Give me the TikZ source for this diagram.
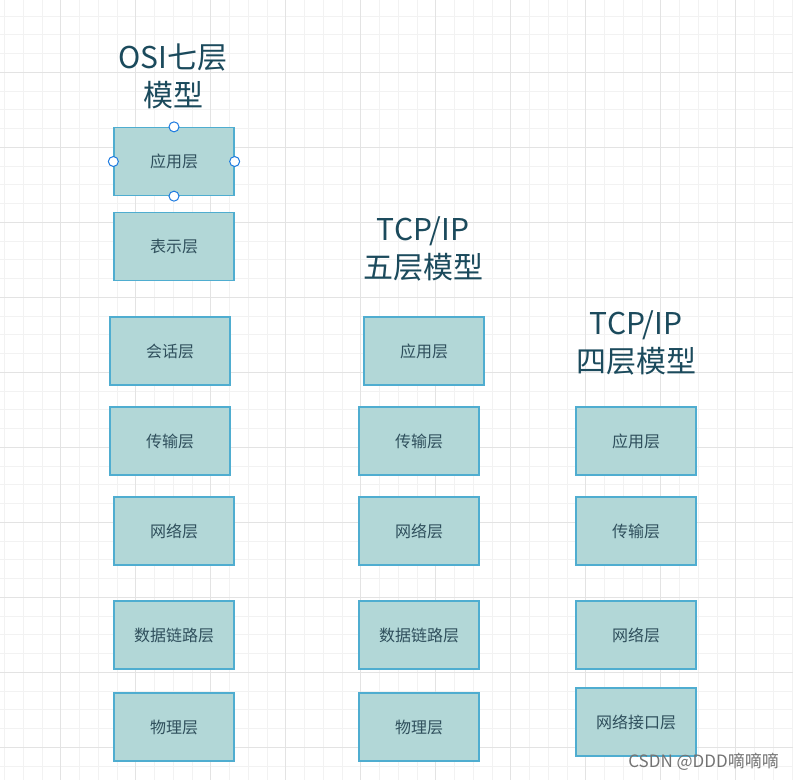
\documentclass[tikz,border=0pt]{standalone}
\usepackage{fontspec}
\setmainfont{Noto Sans CJK SC}
\definecolor{gridminor}{HTML}{F2F2F2}
\definecolor{gridmajor}{HTML}{E3E3E3}
\definecolor{boxfill}{HTML}{B2D7D7}
\definecolor{boxline}{HTML}{4FADD0}
\definecolor{labeltext}{HTML}{2F4F5C}
\definecolor{titletext}{HTML}{1B4A5C}
\definecolor{handleblue}{HTML}{1E7BE0}
\tikzset{
  layerbox/.style={draw=boxline, fill=boxfill, line width=1.3pt, minimum width=120pt, minimum height=68pt, inner sep=0pt, text=labeltext, font=\fontsize{16}{19}\selectfont},
  titlenode/.style={align=center, text=titletext, font=\fontsize{30}{38}\selectfont, inner sep=0pt},
  handle/.style={circle, draw=handleblue, fill=white, line width=1pt, minimum size=10pt, inner sep=0pt},
  minorline/.style={gridminor, line width=0.9pt},
  majorline/.style={gridmajor, line width=1.2pt}
}
\begin{document}
\begin{tikzpicture}[x=1pt,y=-1pt]
\useasboundingbox (0,0) rectangle (793,780);
\fill[white] (0,0) rectangle (793,780);
% grid
\foreach \i in {0,...,42} {
  \draw[minorline] ({4.45+18.75*\i},0) -- ({4.45+18.75*\i},780);
  \draw[minorline] (0,{16.05+18.75*\i}) -- (793,{16.05+18.75*\i});
}
\foreach \i in {0,...,9} {
  \draw[majorline] ({60.7+75*\i},0) -- ({60.7+75*\i},780);
  \draw[majorline] (0,{72.3+75*\i}) -- (793,{72.3+75*\i});
}
% titles
\node[titlenode] (t1) at (173,76) {OSI七层\\模型};
\node[titlenode] (t2) at (423,248.5) {TCP/IP\\五层模型};
\node[titlenode] (t3) at (636,343) {TCP/IP\\四层模型};
% OSI column
\node[layerbox] (o1) at (174,161.5) {应用层};
\node[layerbox] (o2) at (174,246.5) {表示层};
\node[layerbox] (o3) at (170,351) {会话层};
\node[layerbox] (o4) at (170,441) {传输层};
\node[layerbox] (o5) at (174,531) {网络层};
\node[layerbox] (o6) at (174,635) {数据链路层};
\node[layerbox] (o7) at (174,727) {物理层};
% TCP/IP five layers
\node[layerbox] (f1) at (424,351) {应用层};
\node[layerbox] (f2) at (419,441) {传输层};
\node[layerbox] (f3) at (419,531) {网络层};
\node[layerbox] (f4) at (419,635) {数据链路层};
\node[layerbox] (f5) at (419,727) {物理层};
% TCP/IP four layers
\node[layerbox] (g1) at (636,441) {应用层};
\node[layerbox] (g2) at (636,531) {传输层};
\node[layerbox] (g3) at (636,635) {网络层};
\node[layerbox] (g4) at (636,722) {网络接口层};
% selection handles
\node[handle] (h1) at (o1.north) {};
\node[handle] (h2) at (o1.south) {};
\node[handle] (h3) at (o1.west) {};
\node[handle] (h4) at (o1.east) {};
% watermark
\node[anchor=east, text=black!55, font=\fontsize{17}{20}\selectfont, inner sep=0pt] (wm) at (779,762) {CSDN @DDD嘀嘀嘀};
\end{tikzpicture}
\end{document}
